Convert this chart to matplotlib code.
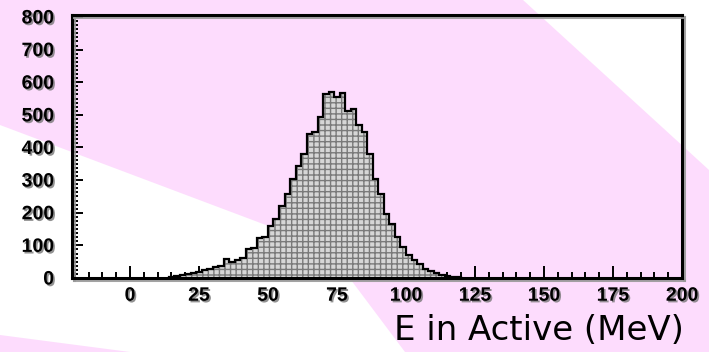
import numpy as np
import matplotlib
matplotlib.use("Agg")
import matplotlib.pyplot as plt
from matplotlib.patches import Polygon
from matplotlib.ticker import MultipleLocator
import matplotlib.patheffects as pe

# ---- data ----
bin_low = 14.0      # MeV, left edge of first filled bin
bin_width = 2.0     # MeV
counts = [4, 7, 8, 12, 15, 19, 24, 28, 33, 38,
          58, 50, 55, 62, 89, 92, 123, 127, 160, 181,
          222, 258, 304, 344, 380, 442, 448, 493, 564, 570,
          555, 568, 513, 518, 470, 447, 380, 304, 258, 196,
          166, 126, 95, 70, 55, 43, 28, 20, 15, 10,
          6, 3, 2]
x_ticks = [0, 25, 50, 75, 100, 125, 150, 175, 200]
y_ticks = [0, 100, 200, 300, 400, 500, 600, 700, 800]
x_label = "E in Active (MeV)"

edges = bin_low + bin_width * np.arange(len(counts) + 1)

W, H = 709, 352
fig = plt.figure(figsize=(W / 100, H / 100), dpi=100)
pink = "#fddcfd"
fig.patch.set_facecolor(pink)

def fpt(x, y):
    return (x / W, 1 - y / H)

white_shapes = [
    [(0, 125), (327, 248), (405, 352), (130, 352), (0, 335)],
    [(523, 0), (709, 0), (709, 170)],
]
for shp in white_shapes:
    fig.patches.append(Polygon([fpt(*p) for p in shp], closed=True,
                               transform=fig.transFigure, facecolor="white",
                               edgecolor="none", zorder=-5))

ax = fig.add_axes([72 / W, 1 - 278 / H, (682 - 72) / W, (278 - 15) / H])
ax.set_zorder(5)
ax.set_facecolor("none")

ax.stairs(counts, edges, fill=True, facecolor="#d6d6d6", edgecolor="#7a7a7a",
          hatch="+++", linewidth=0, zorder=2)
ax.stairs(counts, edges, fill=False, color="black", linewidth=1.6, zorder=3)

ax.set_xlim(-21, 200)
ax.set_ylim(0, 806)
ax.set_xticks(x_ticks)
ax.set_yticks(y_ticks)
ax.xaxis.set_minor_locator(MultipleLocator(5))
ax.yaxis.set_minor_locator(MultipleLocator(12.5))
ax.tick_params(which="both", direction="in", top=False, right=False, width=1.4, color="black")
ax.tick_params(axis="y", which="major", length=8, pad=13)
ax.tick_params(axis="y", which="minor", length=4)
ax.tick_params(axis="x", which="major", length=9, pad=7)
ax.tick_params(axis="x", which="minor", length=4)

shadow = [pe.withSimplePatchShadow(offset=(1.2, -1.2), shadow_rgbFace="#777777", alpha=0.8)]
for lab in ax.get_xticklabels() + ax.get_yticklabels():
    lab.set_fontfamily("Liberation Sans")
    lab.set_fontweight("bold")
    lab.set_fontsize(14)
    lab.set_path_effects(shadow)

for s in ax.spines.values():
    s.set_linewidth(2.2)
    s.set_color("black")
    s.set_zorder(4)
    s.set_path_effects([pe.SimpleLineShadow(offset=(1.5, -1.5), shadow_color="#999999", alpha=0.9), pe.Normal()])

fig.text(684 / W, 1 - 340 / H, x_label, ha="right", va="baseline",
         fontsize=24.5, fontfamily="DejaVu Sans", color="black")

fig.savefig("out.png", dpi=100, facecolor=fig.get_facecolor())
